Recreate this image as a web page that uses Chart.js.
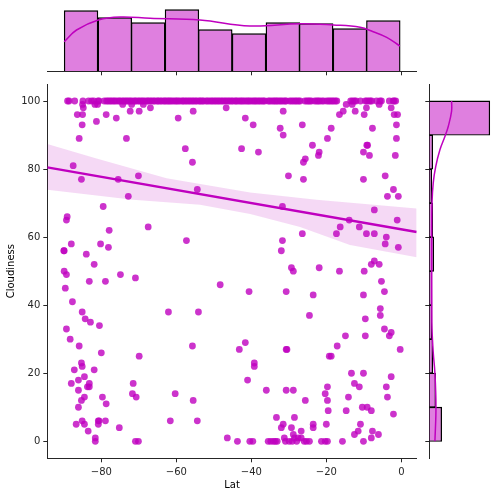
<!DOCTYPE html>
<html>
<head>
<meta charset="utf-8">
<script src="https://cdn.jsdelivr.net/npm/chart.js@4"></script>
<style>
  html, body { margin: 0; padding: 0; background: #fff; }
  canvas { position: absolute; left: 0; top: 0; }
</style>
</head>
<body>
<canvas id="top-hist" width="499" height="496"></canvas>
<canvas id="right-hist" width="499" height="496"></canvas>
<canvas id="main-plot" width="499" height="496"></canvas>
<script>
// cities sitting on exactly 100 cloudiness
const lat100 = [
  -89.0, -88.6, -87.1, -84.9, -83.4, -82.6, -82.0, -80.9, -80.6, -79.2,
  -78.6, -78.2, -77.7, -77.3, -76.8, -76.4, -75.9, -75.3, -75.0, -74.4, -74.0, -73.5, -73.1, -72.6, -72.2,
  -71.7, -71.1, -70.8, -70.2, -69.8, -69.3, -68.9, -68.4, -67.8, -67.5, -67.0, -66.6, -66.1, -65.7, -65.1,
  -64.8, -64.3, -63.9, -63.3, -63.0, -62.5, -62.1,
  -61.7, -61.3, -60.8, -60.3, -59.9, -59.5, -59.0, -58.4, -58.1, -57.6, -57.2, -56.7, -56.3, -55.8, -55.4, -54.9, -54.5, -53.9, -53.6, -53.1, -52.8,
  -52.1, -51.7, -51.2, -50.7, -50.3, -49.8, -49.4, -48.9, -48.5, -48.0, -47.6, -47.1, -46.7, -46.2, -45.8, -45.3, -44.9, -44.3, -44.0,
  -43.5, -43.0, -42.6, -42.2, -41.7, -41.2, -40.8, -40.4, -39.9, -39.4, -39.0, -38.6, -38.1, -37.7, -37.2, -36.8, -36.4,
  -35.5, -35.1, -34.6, -34.1, -33.7, -33.3, -32.9, -32.4, -32.0, -31.5, -31.0, -30.7,
  -29.8, -29.3, -28.8, -28.3, -27.9, -27.4, -27.0,
  -25.7, -25.2, -24.8, -24.4, -24.0,
  -23.1, -22.6, -22.2, -21.8, -21.2, -20.7,
  -19.9, -19.4, -19.0, -18.5, -18.1, -17.6, -17.2,
  -13.5, -13.0, -12.5, -12.1, -10.9, -9.6, -9.2, -8.7, -8.3, -7.9, -6.6, -5.7, -5.3, -3.2, -2.2, -1.9, -1.5
];

// everything below 100
const lat = [
  -85.0, -84.8, -86.4, -85.0, -85.1, -85.9, -87.5, -85.3, -81.3, -81.7, -81.0, -78.7, -76.0, -73.3, -74.3, -71.9, -72.3, -69.9, -68.8, -66.9,
  -59.5, -55.5, -57.6, -55.7, -54.4, -46.7, -41.6, -42.6, -75.5, -70.1, -72.8, -79.5, -77.9, -67.5, -57.3, -89.1, -89.3, -89.9, -90.0, -88.0,
  -80.2, -78.1,
  -31.5, -39.5, -32.3, -26.4, -31.5, -38.1, -23.7, -19.7, -18.7, -21.9, -22.1, -25.6, -26.1, -30.1, -26.1, -31.7, -26.4, -31.7, -32.0,
  -14.7, -15.5, -16.5, -13.1, -12.3, -9.9, -9.3, -5.9, -2.7, -1.9, -1.0, -1.3, -1.3, -1.6, -7.7, -9.2, -9.0, -10.1, -8.5, -10.1, -4.3, -2.1,
  -3.7, -0.8, -7.2, -1.1, -13.9, -16.3, -11.2, -17.3, -9.3, -7.2, -4.0, -4.3, -0.8,
  -84.0, -81.9, -89.9, -89.3, -83.2, -78.9, -74.9, -70.9, -89.6, -87.7, -85.1, -84.3, -82.9, -80.5, -89.3, -88.3, -85.9, -80.0, -69.9,
  -85.3, -85.1, -87.2, -81.9, -84.5, -86.1, -88.0, -83.2, -83.7, -83.2, -86.1, -84.5, -85.3, -86.1, -79.7, -78.7, -71.5, -71.7, -70.7,
  -85.1, -86.7, -84.5, -80.8, -80.6, -80.8, -78.9, -83.5, -81.6, -81.6, -75.2, -70.9, -70.1,
  -62.1, -54.1, -48.3, -40.6, -55.7, -41.6, -43.2, -41.0, -60.3, -55.5, -61.6, -54.4, -46.4, -43.7, -40.4,
  -29.3, -28.8, -21.9, -16.5, -9.9, -8.0, -7.2, -5.9, -5.3, -4.5, -10.1, -30.7, -23.5, -5.6, -5.6, -9.6, -24.5, -4.5, -2.7, -3.2, -9.6, -14.9,
  -17.1, -0.3, -30.7, -30.5, -19.2, -18.7, -39.2, -39.2, -13.3, -10.1, -2.7, -12.5, -11.2, -4.0, -19.7, -20.3, -14.1, -3.7, -19.7, -25.6,
  -36.0, -30.7, -28.8, -19.5, -14.7, -10.4, -9.1, -8.0, -2.1, -33.3, -28.5, -31.5, -32.0, -29.3, -23.5, -23.5, -20.0, -10.9, -26.7, -11.5,
  -12.5, -7.7, -6.1, -8.0, -31.2, -28.8, -28.5, -26.7, -27.5,
  -39.6, -35.5, -34.8, -34.1, -33.6, -33.1, -30.9, -29.9, -29.1, -27.9, -25.9, -25.3, -24.5, -21.3, -20.3, -19.7, -15.7, -10.1
];
const cloudiness = [
  99, 98, 96, 96, 93, 89, 81, 77, 94, 99, 99, 96, 95, 89, 99, 99, 97, 97, 99, 98,
  95, 97, 86, 82, 74, 98, 95, 86, 77, 78, 72, 69, 62, 63, 59, 66, 65, 56, 56, 58,
  58, 57,
  97, 93, 92, 93, 90, 85, 87, 89, 92, 85, 84, 83, 82, 78, 77, 69, 61, 59, 56,
  99, 97, 96, 99, 97, 96, 98, 99, 98, 96, 96, 93, 89, 84, 92, 87, 87, 85, 84, 77, 78, 74,
  72, 72, 68, 65, 65, 63, 63, 61, 61, 61, 60, 58, 57,
  55, 52, 50, 49, 47, 47, 49, 48, 45, 41, 38, 36, 35, 34, 33, 30, 28, 26, 25,
  23, 22, 21, 21, 19, 18, 17, 17, 16, 16, 15, 13, 12, 10, 13, 11, 17, 14, 13,
  6, 5, 5, 6, 6, 5, 6, 3, 1, 0, 4, 0, 0,
  38, 38, 46, 44, 28, 29, 27, 18, 14, 12, 6, 6, 1, 0, 0,
  51, 50, 51, 50, 50, 52, 53, 52, 47, 44, 43, 44, 43, 39, 37, 36, 37, 33, 32, 31, 31, 31,
  28, 27, 27, 27, 25, 25, 23, 22, 20, 20, 19, 17, 16, 16, 16, 14, 13, 13, 12, 12,
  15, 15, 15, 9, 9, 10, 10, 9, 8, 7, 7, 5, 4, 4, 5, 4, 5, 5, 3, 3,
  2, 3, 2, 1, 1, 2, 1, 1, 1,
  0, 0, 0, 0, 0, 0, 0, 0, 0, 0, 0, 0, 0, 0, 0, 0, 0, 0
];

// fit line and confidence band read along the axis
const fitLat = [-94.4, 4.1];
const fitCloud = [80.5, 61.5];
const bandUpperLat = [-94.4, -81.5, -62.6, -40.3, -22.6, 4.1];
const bandUpperCloud = [87.4, 83.2, 77.3, 73.1, 71, 68.4];
const bandLowerLat = [-94.4, -71.6, -53.7, -40.3, -27, -13.7, 4.1];
const bandLowerCloud = [73.9, 71, 69.5, 66.8, 63, 57.7, 54.1];

// marginal histograms
const latBins = [-85.4, -76.4, -67.5, -58.5, -49.6, -40.6, -31.6, -22.7, -13.7, -4.8];
const latCounts = [61, 54, 49, 62, 42, 38, 49, 48, 43, 51];
const kdeLat = [-89.9, -86.6, -80.8, -75, -67, -53.7, -40.4, -27, -18.1, -11, -7.5, -3.9, -0.4];
const kdeLatVals = [29.6, 41.3, 51.3, 54.3, 53, 51.3, 45.3, 47.6, 46.3, 44, 39.6, 34, 25.3];

const cloudBins = [5, 15, 25, 35, 45, 55, 65, 75, 85, 95];
const cloudCounts = [61, 32, 18, 14, 14, 23, 18, 13, 18, 292];
const kdeCloud = [0, 10, 20, 26, 33, 40, 50, 60, 70, 76, 80.8, 85.7, 89.6, 92.5, 97, 100];
const kdeCloudVals = [27, 32, 27, 19, 13, 12, 11.5, 11.5, 13, 19, 31, 51, 75, 91, 107, 107];

const magenta = "rgb(191,0,191)";
const magentaSoft = "rgba(191,0,191,0.5)";
const axisColor = "#262626";
const fontFamily = "'DejaVu Sans'";

Chart.defaults.font.family = fontFamily;
Chart.defaults.font.size = 10;
Chart.defaults.color = axisColor;
Chart.defaults.animation = false;
Chart.defaults.responsive = false;
Chart.defaults.plugins.legend.display = false;
Chart.defaults.plugins.tooltip.enabled = false;

function zip(xs, ys) {
  return xs.map((x, i) => ({ x: x, y: ys[i] }));
}

function tickStyle() {
  return { drawOnChartArea: false, drawTicks: true, tickLength: 4, tickWidth: 1, tickColor: axisColor, offset: false };
}

function minus(value) {
  return String(value).replace("-", "\u2212");
}

new Chart(document.getElementById("main-plot"), {
  type: "scatter",
  data: {
    datasets: [
      {
        type: "line",
        data: zip(fitLat, fitCloud),
        borderColor: magenta,
        borderWidth: 2.5,
        pointRadius: 0,
        order: 0,
      },
      {
        data: zip(lat100, lat100.map(() => 100)).concat(zip(lat, cloudiness)),
        backgroundColor: "rgba(191,0,191,0.8)",
        borderWidth: 0,
        pointRadius: 3.4,
        order: 1,
      },
      {
        type: "line",
        data: zip(bandUpperLat, bandUpperCloud),
        borderWidth: 0,
        pointRadius: 0,
        fill: { target: "+1" },
        backgroundColor: "rgba(191,0,191,0.15)",
        order: 2,
      },
      {
        type: "line",
        data: zip(bandLowerLat, bandLowerCloud),
        borderWidth: 0,
        pointRadius: 0,
        order: 3,
      },
    ],
  },
  options: {
    layout: { padding: { top: 84, right: 82.3, left: 0, bottom: 0 } },
    scales: {
      x: {
        type: "linear",
        min: -94.4,
        max: 4.1,
        afterFit: (scale) => { scale.height = 37.7; },
        border: { color: axisColor },
        grid: tickStyle(),
        title: { display: true, text: "Lat", padding: 5, color: "#000" },
        ticks: { stepSize: 20, includeBounds: false, padding: 4, maxRotation: 0, callback: minus },
      },
      y: {
        min: -5,
        max: 105,
        afterFit: (scale) => { scale.width = 47.3; },
        border: { color: axisColor },
        grid: tickStyle(),
        title: { display: true, text: "Cloudiness", padding: 5, color: "#000" },
        ticks: { stepSize: 20, includeBounds: false, padding: 3 },
      },
    },
  },
});

new Chart(document.getElementById("top-hist"), {
  type: "bar",
  data: {
    datasets: [
      {
        type: "line",
        data: zip(kdeLat, kdeLatVals),
        borderColor: magenta,
        borderWidth: 1.5,
        pointRadius: 0,
        tension: 0.4,
        order: 0,
      },
      {
        data: zip(latBins, latCounts),
        backgroundColor: magentaSoft,
        borderColor: "#000",
        borderWidth: 1.4,
        // bars overlap a hair so neighbouring edges share one line
        barPercentage: 1.03,
        categoryPercentage: 1,
        order: 1,
      },
    ],
  },
  options: {
    layout: { padding: { top: 6.3, right: 82.3, left: 47.3, bottom: 0 } },
    scales: {
      x: {
        type: "linear",
        offset: false,
        min: -94.4,
        max: 4.1,
        afterFit: (scale) => { scale.height = 424.7; },
        border: { color: axisColor },
        grid: tickStyle(),
        ticks: { stepSize: 20, includeBounds: false, display: false },
      },
      y: { display: false, min: 0, max: 65 },
    },
  },
});

new Chart(document.getElementById("right-hist"), {
  type: "bar",
  data: {
    datasets: [
      {
        type: "scatter",
        showLine: true,
        data: zip(kdeCloudVals, kdeCloud),
        borderColor: magenta,
        borderWidth: 1.5,
        pointRadius: 0,
        tension: 0.4,
        order: 0,
      },
      {
        data: zip(cloudCounts, cloudBins),
        backgroundColor: magentaSoft,
        borderColor: "#000",
        borderWidth: 1.4,
        barPercentage: 1.03,
        categoryPercentage: 1,
        order: 1,
      },
    ],
  },
  options: {
    indexAxis: "y",
    layout: { padding: { top: 84, right: 4.7, left: 0, bottom: 0 } },
    scales: {
      x: {
        type: "linear",
        display: false,
        min: 0,
        max: 312,
        afterFit: (scale) => { scale.height = 37.7; },
      },
      y: {
        type: "linear",
        offset: false,
        min: -5,
        max: 105,
        afterFit: (scale) => { scale.width = 429.3; },
        border: { color: axisColor },
        grid: tickStyle(),
        ticks: { stepSize: 20, includeBounds: false, display: false },
      },
    },
  },
});
</script>
</body>
</html>
